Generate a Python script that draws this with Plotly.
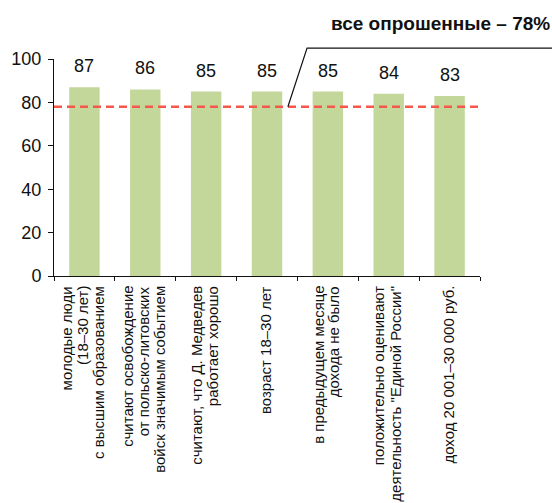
import plotly.graph_objects as go

# Share of respondents (%) by group
categories = [
    "молодые люди<br>(18–30 лет)<br>с высшим образованием",
    "считают освобождение<br>от польско-литовских<br>войск значимым событием",
    "считают, что Д. Медведев<br>работает хорошо",
    "возраст 18–30 лет",
    "в предыдущем месяце<br>дохода не было",
    "положительно оценивают<br>деятельность \"Единой России\"",
    "доход 20 001–30 000 руб.",
]
values = [87, 86, 85, 85, 85, 84, 83]
all_respondents = 78
all_label = "все опрошенные – 78%"
y_ticks = [0, 20, 40, 60, 80, 100]

FONT = "Liberation Sans"
BAR_COLOR = "#c4d79b"
LINE_COLOR = "#f5584a"
Y_MAX = 100

x_idx = list(range(len(categories)))

fig = go.Figure(
    go.Bar(
        x=x_idx,
        y=values,
        width=0.5,
        marker=dict(color=BAR_COLOR, line=dict(width=0)),
        hoverinfo="skip",
    )
)

annotations = []

# value labels above bars
for xi, v in zip(x_idx, values):
    annotations.append(dict(
        x=xi, y=v, xref="x", yref="y", text=str(v), showarrow=False,
        yanchor="middle", yshift=21,
        font=dict(family=FONT, size=18, color="#111111"),
    ))

# rotated category labels, one annotation per line for tight spacing
LINE_STEP = 16
for xi, cat in zip(x_idx, categories):
    lines = cat.split("<br>")
    n = len(lines)
    for i, ln in enumerate(lines):
        annotations.append(dict(
            x=xi, y=0, xref="x", yref="paper", text=ln, showarrow=False,
            textangle=-90, xanchor="center", yanchor="top",
            xshift=(i - (n - 1) / 2) * LINE_STEP - 2, yshift=-8,
            font=dict(family=FONT, size=15, color="#111111"),
        ))

# callout title
annotations.append(dict(
    x=1.169, y=1.165, xref="paper", yref="paper", text="<b>" + all_label + "</b>",
    showarrow=False, xanchor="right", yanchor="middle",
    font=dict(family=FONT, size=19, color="#111111"),
))

y_line = all_respondents / Y_MAX
shapes = [
    # reference level for all respondents
    dict(type="line", xref="paper", yref="y", x0=0, x1=1,
         y0=all_respondents, y1=all_respondents,
         line=dict(color=LINE_COLOR, width=2.5, dash="8px,5px")),
    # leader line to the callout text
    dict(type="path", xref="paper", yref="paper",
         path=f"M 0.549 {y_line} L 0.594 1.05 L 1.2 1.05",
         line=dict(color="#111111", width=1.2)),
]

fig.update_layout(
    width=552, height=503,
    margin=dict(l=54, r=72, t=59, b=227),
    paper_bgcolor="white", plot_bgcolor="white",
    showlegend=False,
    bargap=0.5,
    annotations=annotations,
    shapes=shapes,
    xaxis=dict(
        range=[-0.5, len(categories) - 0.5],
        showticklabels=False, showgrid=False, zeroline=False,
        showline=True, linecolor="#111111", linewidth=1,
        ticks="outside", ticklen=4, tickcolor="#111111",
        tickmode="array", tickvals=[i - 0.5 for i in range(len(categories) + 1)],
        fixedrange=True,
    ),
    yaxis=dict(
        range=[0, Y_MAX], tickmode="array", tickvals=y_ticks,
        showgrid=False, zeroline=False,
        showline=True, linecolor="#111111", linewidth=1,
        ticks="outside", ticklen=5, tickcolor="#111111",
        tickfont=dict(family=FONT, size=18, color="#111111"),
        ticklabelstandoff=3,
        fixedrange=True,
    ),
)

fig.write_html("out.html")
